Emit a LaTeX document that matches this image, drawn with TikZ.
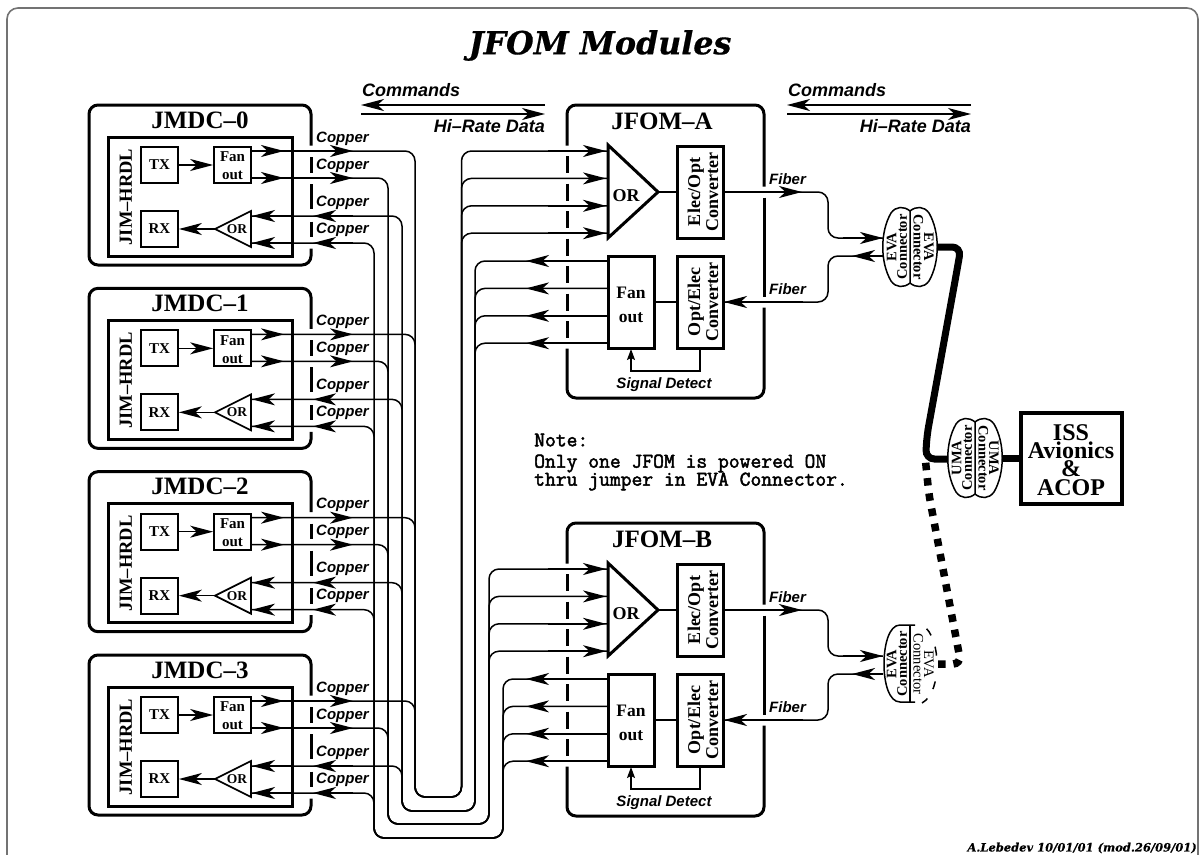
\documentclass[tikz,border=0pt]{standalone}
\usepackage{fontspec}
\setmainfont{Liberation Serif}
\setsansfont{Liberation Sans}
\newfontfamily\titlefont{DejaVu Serif}[BoldItalicFeatures={FakeBold=0.5}]
\newfontfamily\notefont{Latin Modern Mono}[FakeBold=2.2]
\usetikzlibrary{arrows.meta,calc}
\newcommand\szf[1]{\fontsize{#1}{#1}\selectfont}
\newcommand\szl[2]{\fontsize{#1}{#2}\selectfont}
\tikzset{
  wire/.style={line width=1.5pt},
  arr/.style={-{Stealth[length=23pt,width=12pt,inset=6.5pt]}},
  smallarr/.style={-{Stealth[length=11pt,width=8pt,inset=2pt]}},
  modbox/.style={line width=3pt,rounded corners=9pt},
  busroute/.style={wire,rounded corners=10pt},
  smallbox/.style={draw,line width=1.7pt,inner sep=0pt,font=\bfseries\szf{15},align=center},
  jbox/.style={draw,line width=3pt,inner sep=0pt,minimum width=46pt,minimum height=92pt},
  jtext/.style={inner sep=0pt,font=\bfseries\szl{18}{18},align=center},
  lab/.style={inner sep=0pt,font=\sffamily\bfseries\itshape\szf{15}},
  big/.style={inner sep=0pt,font=\sffamily\bfseries\itshape\szf{18}},
  head/.style={inner sep=0pt,font=\bfseries\szf{25}},
  conntext/.style={inner sep=0pt,align=center,font=\bfseries\szl{14.5}{10.5}},
  thick cable/.style={line width=7pt,rounded corners=9pt},
  notetext/.style={inner sep=0pt,anchor=west,font=\notefont\szf{21}},
}
% #1 name, #2 x, #3 y of the top left corner, #4 label
\newcommand\pairconn[4]{%
  \begin{scope}[shift={(#2,#3)}]
    \draw[line width=1.5pt] (27,4) .. controls (21,-1) and (13,-1) .. (8,6) .. controls (-3,25) and (-3,55) .. (8,74) .. controls (13,81) and (21,81) .. (27,76) -- cycle;
    \draw[line width=1.5pt] (27,4) .. controls (33,-1) and (41,-1) .. (46,6) .. controls (57,25) and (57,55) .. (46,74) .. controls (41,81) and (33,81) .. (27,76);
    \node[conntext,rotate=90] (#1L) at (14,40) {#4\\Connector};
    \node[conntext,rotate=-90] (#1R) at (40.5,40) {#4\\Connector};
  \end{scope}}
\begin{document}
\begin{tikzpicture}[x=1pt,y=-1pt]
\useasboundingbox (0,0) rectangle (1199,854);
% page frame
\draw[line width=1.6pt,draw=black!55,rounded corners=11pt] (7,856) -- (7,8) -- (1198,8) -- (1198,856);
\node[inner sep=0pt,font=\titlefont\bfseries\itshape\szf{31.7}] (title) at (600,45.5) {JFOM Modules};

% direction legends
\coordinate (lgA) at (361,105); \coordinate (lgB) at (787,105);
\foreach \g in {lgA,lgB}{
  \draw[wire,arr] (\g) ++(184,0) -- (\g);
  \draw[wire,arr] (\g) ++(0,9) -- ++(184,0);
  \node[big,anchor=west] at ($(\g)+(1,-15)$) {Commands};
  \node[big,anchor=east] at ($(\g)+(184,21)$) {Hi–Rate Data};
}

% JFOM modules
\foreach \j/\d/\lab in {A/0/JFOM–A,B/418/JFOM–B}{
\begin{scope}[shift={(0,\d)}]
  \draw[modbox] (567,145.5) -- (567,105) -- (764,105) -- (764,186.5);
  \draw[modbox] (764,197.5) -- (764,296.5);
  \draw[modbox] (764,307.5) -- (764,398) -- (567,398) -- (567,348.5);
  \foreach \s/\e in {156/173,183.5/200.5,211/228,238.5/255.5,266/283,293.5/310.5,321/338}
    \draw[modbox] (567,\s) -- (567,\e);
  \node[head] (title\j) at (662,121) {\lab};
  \draw[line width=3pt,line join=miter] (608,145) -- (658,192) -- (608,238) -- cycle;
  \node[inner sep=0pt,font=\bfseries\szf{18}] (or\j) at (626,196) {OR};
  \node[jbox] (eo\j) at (700,192) {};
  \node[jtext,rotate=90] (eoText\j) at (703,192) {Elec/Opt\\Converter};
  \node[jbox] (oe\j) at (700,302) {};
  \node[jtext,rotate=90] (oeText\j) at (703,302) {Opt/Elec\\Converter};
  \node[jbox] (fan\j) at (631,302) {};
  \node[jtext,font=\bfseries\szl{17.5}{24}] (fanText\j) at (631,305) {Fan\\out};
  \coordinate (apex\j) at (658,192);
  \coordinate (eoR\j) at (723,192);
  \coordinate (eoL\j) at (677,192);
  \coordinate (oeR\j) at (724,302);
  \coordinate (oeL\j) at (677,302);
  \coordinate (fanR\j) at (654,302);
  \coordinate (oeB\j) at (700,348);
  \coordinate (fanB\j) at (631,349);
  \coordinate (sdL\j) at (631,371);
  \coordinate (sdR\j) at (700,371);
  \coordinate (fibA\j) at (828,192);
  \coordinate (fibB\j) at (828,238);
  \coordinate (fibC\j) at (883,238);
  \coordinate (fibD\j) at (883,256);
  \coordinate (fibE\j) at (828,256);
  \coordinate (fibF\j) at (828,302);
  \draw[wire] (apex\j) -- (eoL\j);
  \draw[wire] (fanR\j) -- (oeL\j);
  \draw[wire,smallarr] (oeB\j) -- (sdR\j) -- (sdL\j) -- (fanB\j);
  \node[lab] (sd\j) at (664,385) {Signal Detect};
  \draw[wire,rounded corners=10pt] (eoR\j) -- (fibA\j) -- (fibB\j) -- (fibC\j);
  \draw[wire,rounded corners=10pt] (fibD\j) -- (fibE\j) -- (fibF\j) -- (oeR\j);
  \draw[wire,arr] (eoR\j) -- (802,192);
  \draw[wire,arr] (fibC\j) ++(-40,0) -- (fibC\j);
  \draw[wire,arr] (fibD\j) -- ++(-31,0);
  \draw[wire,arr] (fibF\j) ++(-25,0) -- (oeR\j);
  \node[lab,anchor=west] at (769,179) {Fiber};
  \node[lab,anchor=west] at (769,289) {Fiber};
  \foreach \n/\yi/\yo in {0/151/261,1/178.4/288.4,2/205.8/315.8,3/233.2/343.2}{
    \coordinate (in\j\n) at (608,\yi);
    \coordinate (out\j\n) at (608,\yo);
    \draw[wire,arr] (in\j\n) ++(-60,0) -- ++(58,0);
    \draw[wire,arr] (out\j\n) -- ++(-82,0);
  }
\end{scope}}

% bus U-turn corners
\coordinate (aL) at (415,797); \coordinate (aR) at (461.5,797);
\coordinate (cL) at (402,811); \coordinate (cR) at (475,811);
\coordinate (bL) at (388,824); \coordinate (bR) at (489,824);
\coordinate (dL) at (374,838); \coordinate (dR) at (503,838);

% JMDC modules
\foreach \i/\d in {0/0,1/183.33,2/366.67,3/550}{
\begin{scope}[shift={(0,\d)}]
  \draw[modbox] (311,145.5) -- (311,105) -- (89,105) -- (89,265) -- (311,265) -- (311,248.5);
  \foreach \s/\e in {157/172.5,184/209,221.5/237}
    \draw[modbox] (311,\s) -- (311,\e);
  \node[head] (head\i) at (200,120) {JMDC–\i};
  \draw[line width=3pt] (108,137) rectangle (292,256);
  \node[inner sep=0pt,rotate=90,font=\bfseries\szf{18.5}] (hrdl\i) at (126,197) {JIM–HRDL};
  \node[smallbox,minimum width=37pt,minimum height=36pt] (tx\i) at (159.5,165) {TX};
  \node[smallbox,minimum width=37pt,minimum height=36pt] (rx\i) at (159.5,229) {RX};
  \node[smallbox,minimum width=37pt,minimum height=36pt] (fo\i) at (232.5,165) {};
  \node[inner sep=0pt,align=center,font=\bfseries\szl{15}{18}] (foText\i) at (232.5,166) {Fan\\out};
  \draw[line width=1.7pt] (251,211) -- (215,229) -- (251,247) -- cycle;
  \node[inner sep=0pt,font=\bfseries\szf{13.5}] (orr\i) at (237,229) {OR};
  \coordinate (orApex\i) at (215,229);
  \draw[wire,arr] (tx\i) -- (fo\i);
  \draw[wire,arr] (orApex\i) -- (rx\i);
  \coordinate (a\i) at (251,151);
  \coordinate (b\i) at (251,178);
  \coordinate (c\i) at (252,216);
  \coordinate (d\i) at (252,243);
  \foreach \p in {a,b}{
    \draw[wire,arr] (\p\i) -- ++(33,0);
    \draw[wire,arr] (\p\i) -- ++(102,0);
  }
  \foreach \p in {c,d}{
    \draw[wire,arr] (\p\i) ++(40,0) -- (\p\i);
    \draw[wire,arr] (\p\i) ++(101,0) -- ++(-40,0);
  }
  \node[lab,anchor=west] (ca\i) at (316,138.5) {Copper};
  \node[lab,anchor=west] (cb\i) at (316,165.5) {Copper};
  \node[lab,anchor=west] (cc\i) at (316,202.5) {Copper};
  \node[lab,anchor=west] (cd\i) at (316,229.5) {Copper};
\end{scope}
  \draw[busroute] (a\i) -- (a\i -| aL) -- (aL) -- (aR) -- (aR |- inA\i) -- (inA\i);
  \draw[busroute] (b\i) -- (b\i -| bL) -- (bL) -- (bR) -- (bR |- inB\i) -- (inB\i);
  \draw[busroute] (c\i) -- (c\i -| cL) -- (cL) -- (cR) -- (cR |- outA\i) -- (outA\i);
  \draw[busroute] (d\i) -- (d\i -| dL) -- (dL) -- (dR) -- (dR |- outB\i) -- (outB\i);
}

% note
\node[notetext] (note1) at (534,440) {Note:};
\node[notetext] (note2) at (534,463.5) {Only one JFOM is powered ON};
\node[notetext] (note3) at (534,481.5) {thru jumper in EVA Connector.};

% connectors
\pairconn{evaA}{883}{207}{EVA}
\pairconn{uma}{948}{418}{UMA}
% EVA connector of JFOM-B: right half drawn with a dashed outline
\begin{scope}[shift={(883,625)}]
  \draw[line width=1.5pt] (32,0) -- (17,0) .. controls (6,0) and (1,20) .. (1,39) .. controls (1,58) and (6,77) .. (17,77) -- (32,77);
  \draw[line width=1.5pt] (27,0) -- (27,77);
  \draw[line width=1.5pt,dash pattern=on 0pt off 6pt on 8pt off 12pt on 9pt off 26pt on 8pt off 11pt on 9pt off 100pt] (39,0) .. controls (50,6) and (54,25) .. (54,39) .. controls (54,55) and (50,72) .. (39,78);
  \node[conntext,rotate=90] (evaBL) at (14,39) {EVA\\Connector};
  \node[conntext,rotate=-90,font=\szl{14.5}{10.5}] (evaBR) at (40.5,39) {EVA\\Connector};
\end{scope}

\coordinate (evaAout) at (937,247);
\coordinate (umaIn) at (948,459);
\coordinate (umaOut) at (1002,458);
\draw[thick cable] (evaAout) -- (961,247) -- (957,270) -- (927,435) -- (925.5,459) -- (umaIn);
\coordinate (evaBout) at (938,664);
\draw[line width=7.5pt,dash pattern=on 7.5pt off 7.9pt,rounded corners=8pt] (evaBout) -- (961,664) -- (929,495) -- (925.5,461);

\node[draw,line width=4pt,minimum width=101pt,minimum height=91pt,inner sep=0pt] (iss) at (1071,458) {};
\node[inner sep=0pt,align=center,font=\bfseries\szl{24}{18.3}] (isstext) at (1071,460) {ISS\\Avionics\\\&\\ACOP};
\draw[line width=7pt] (umaOut) -- (iss.west);

% credit
\node[inner sep=0pt,anchor=east,font=\titlefont\bfseries\itshape\szf{11.5}] (credit) at (1197,848) {A.Lebedev 10/01/01 (mod.26/09/01)};
\end{tikzpicture}
\end{document}
